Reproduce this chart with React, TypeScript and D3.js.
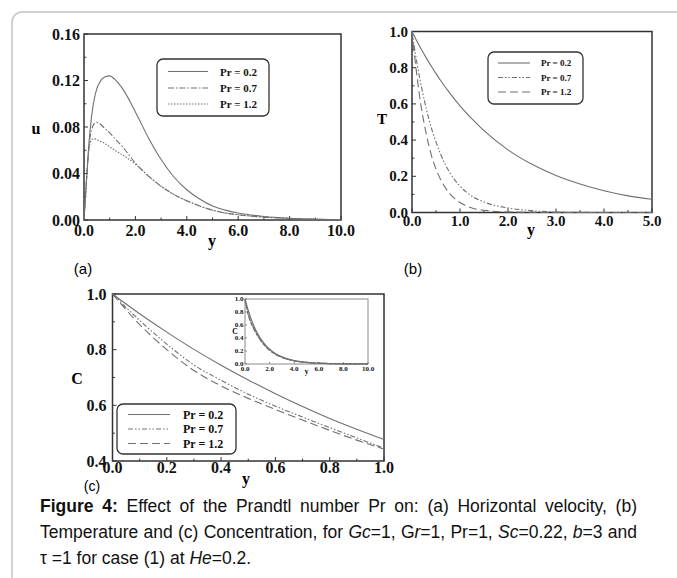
import React, { useLayoutEffect, useRef } from 'react'
import * as d3 from 'd3'

// ---------- data ----------
const velY = [0, 0.1, 0.2, 0.3, 0.4, 0.5, 0.6, 0.8, 1.0, 1.2, 1.5, 2.0, 2.5, 3.0, 3.5, 4.0, 4.5, 5.0, 5.5, 6.0, 7.0, 8.0, 9.0, 10.0]
const velPr02 = [0, 0.035, 0.068, 0.09, 0.104, 0.113, 0.118, 0.123, 0.124, 0.121, 0.113, 0.093, 0.071, 0.052, 0.037, 0.026, 0.018, 0.012, 0.0085, 0.006, 0.003, 0.0015, 0.0007, 0.0002]
const velPr07 = [0, 0.035, 0.065, 0.078, 0.083, 0.084, 0.083, 0.079, 0.075, 0.07, 0.063, 0.049, 0.038, 0.029, 0.022, 0.0165, 0.012, 0.0085, 0.006, 0.0045, 0.0025, 0.0013, 0.0006, 0.0002]
const velPr12 = [0, 0.035, 0.062, 0.069, 0.07, 0.069, 0.068, 0.066, 0.063, 0.06, 0.056, 0.048, 0.038, 0.029, 0.022, 0.0165, 0.012, 0.0085, 0.006, 0.0045, 0.0025, 0.0013, 0.0006, 0.0002]

const tempY = [0, 0.1, 0.2, 0.3, 0.4, 0.5, 0.6, 0.8, 1.0, 1.25, 1.5, 2.0, 2.5, 3.0, 3.5, 4.0, 4.5, 5.0]
const tempPr02 = [1, 0.948, 0.899, 0.853, 0.809, 0.767, 0.728, 0.655, 0.589, 0.517, 0.452, 0.346, 0.266, 0.204, 0.157, 0.12, 0.092, 0.073]
const tempPr07 = [1, 0.83, 0.69, 0.57, 0.47, 0.39, 0.32, 0.215, 0.145, 0.09, 0.058, 0.025, 0.01, 0.003, 0.001, 0, 0, 0]
const tempPr12 = [1, 0.76, 0.57, 0.43, 0.32, 0.24, 0.18, 0.1, 0.055, 0.025, 0.012, 0.003, 0.001, 0, 0, 0, 0, 0]

const concY = [0, 0.1, 0.2, 0.3, 0.4, 0.5, 0.6, 0.7, 0.8, 0.9, 1.0]
const concPr02 = [1, 0.929, 0.863, 0.801, 0.744, 0.691, 0.642, 0.596, 0.553, 0.514, 0.477]
const concPr07 = [1, 0.905, 0.82, 0.745, 0.69, 0.64, 0.597, 0.558, 0.52, 0.483, 0.446]
const concPr12 = [1, 0.89, 0.8, 0.725, 0.67, 0.625, 0.585, 0.547, 0.51, 0.475, 0.443]

const insetY = [0, 0.25, 0.5, 0.75, 1, 1.5, 2, 2.5, 3, 4, 5, 6, 7, 8, 9, 10]
const insetPr02 = [1, 0.83, 0.69, 0.574, 0.477, 0.33, 0.228, 0.157, 0.109, 0.052, 0.025, 0.012, 0.006, 0.003, 0.0013, 0.0006]
const insetPr07 = [1, 0.78, 0.64, 0.535, 0.446, 0.31, 0.215, 0.15, 0.104, 0.05, 0.024, 0.012, 0.006, 0.003, 0.0013, 0.0006]
const insetPr12 = [1, 0.76, 0.625, 0.525, 0.443, 0.305, 0.21, 0.147, 0.102, 0.049, 0.024, 0.012, 0.006, 0.003, 0.0013, 0.0006]

const legendLabels = ['Pr = 0.2', 'Pr = 0.7', 'Pr = 1.2']

// ticks
const aXMajor = [0, 2, 4, 6, 8, 10]
const aXMinor = [1, 3, 5, 7, 9]
const aYMajor = [0, 0.04, 0.08, 0.12, 0.16]
const aYMinor = [0.02, 0.06, 0.1, 0.14]
const bXMajor = [0, 1, 2, 3, 4, 5]
const bXMinor = [0.5, 1.5, 2.5, 3.5, 4.5]
const bYMajor = [0, 0.2, 0.4, 0.6, 0.8, 1.0]
const bYMinor = [0.1, 0.3, 0.5, 0.7, 0.9]
const cXMajor = [0, 0.2, 0.4, 0.6, 0.8, 1.0]
const cXMinor = [0.1, 0.3, 0.5, 0.7, 0.9]
const cYMajor = [0.4, 0.6, 0.8, 1.0]
const cYMinor = [0.5, 0.7, 0.9]
const inXMajor = [0, 2, 4, 6, 8, 10]
const inYMajor = [0, 0.2, 0.4, 0.6, 0.8, 1.0]

const SERIF = '"Liberation Serif", "DejaVu Serif", serif'
const SANS = '"Liberation Sans", Arial, sans-serif'
const CURVE = '#707070'
const AXIS = '#333'

type Scale = d3.ScaleLinear<number, number>

const Curve = ({ xs, ys, x, y, dash, width = 1.1 }: { xs: number[], ys: number[], x: Scale, y: Scale, dash?: string, width?: number }) => {
    const line = d3.line<number>()
        .x((_, i) => x(xs[i]))
        .y(d => y(d))
        .curve(d3.curveMonotoneX)
    return <path d={line(ys) || ''} fill="none" stroke={CURVE} strokeWidth={width} strokeDasharray={dash} />
}

interface AxesProps {
    x: Scale, y: Scale,
    xMajor: number[], xMinor: number[], yMajor: number[], yMinor: number[],
    xFmt: (v: number) => string, yFmt: (v: number) => string,
    fontSize: number, xLabelDy: number, yLabelDx: number,
    stroke?: string, strokeWidth?: number, tick?: number
}

const Axes = ({ x, y, xMajor, xMinor, yMajor, yMinor, xFmt, yFmt, fontSize, xLabelDy, yLabelDx, stroke = AXIS, strokeWidth = 1.5, tick = 4 }: AxesProps) => {
    const [x0, x1] = x.range()
    const [y0, y1] = y.range()
    return (
        <g>
            <rect x={x0} y={y1} width={x1 - x0} height={y0 - y1} fill="none" stroke={stroke} strokeWidth={strokeWidth} />
            {xMajor.concat(xMinor).map((v, i) => (
                <line key={'xt' + i} x1={x(v)} x2={x(v)} y1={y0} y2={y0 - (i < xMajor.length ? tick : tick * 0.6)} stroke={stroke} strokeWidth={1} />
            ))}
            {yMajor.concat(yMinor).map((v, i) => (
                <line key={'yt' + i} x1={x0} x2={x0 + (i < yMajor.length ? tick : tick * 0.6)} y1={y(v)} y2={y(v)} stroke={stroke} strokeWidth={1} />
            ))}
            <g fontFamily={SERIF} fontWeight="bold" fontSize={fontSize} fill="#111">
                {xMajor.map((v, i) => (
                    <text key={'xl' + i} x={x(v)} y={y0 + xLabelDy} textAnchor="middle">{xFmt(v)}</text>
                ))}
                {yMajor.map((v, i) => (
                    <text key={'yl' + i} x={x0 - yLabelDx} y={y(v)} textAnchor="end" dominantBaseline="central">{yFmt(v)}</text>
                ))}
            </g>
        </g>
    )
}

interface LegendProps {
    x: number, y: number, w: number, h: number,
    rows: number[], lineX: [number, number], textX: number,
    dashes: (string | undefined)[], fontSize: number
}

const Legend = ({ x, y, w, h, rows, lineX, textX, dashes, fontSize }: LegendProps) => (
    <g>
        <rect x={x} y={y} width={w} height={h} rx={6} fill="#fff" stroke={AXIS} strokeWidth={1.3} />
        {legendLabels.map((lab, i) => (
            <g key={lab}>
                <line x1={lineX[0]} x2={lineX[1]} y1={rows[i]} y2={rows[i]} stroke={CURVE} strokeWidth={1.1} strokeDasharray={dashes[i]} />
                <text x={textX} y={rows[i]} dominantBaseline="central" fontFamily={SERIF} fontWeight="bold" fontSize={fontSize} fill="#111">{lab}</text>
            </g>
        ))}
    </g>
)

// caption line stretched to a set width by adjusting the space between words
const JustifiedLine = ({ x, y, width, children }: { x: number, y: number, width: number, children: React.ReactNode }) => {
    const ref = useRef<SVGTextElement>(null)
    useLayoutEffect(() => {
        const el = ref.current
        if (!el) return
        el.style.wordSpacing = '0px'
        const natural = el.getComputedTextLength()
        const spaces = ((el.textContent || '').match(/ /g) || []).length
        if (spaces > 0) el.style.wordSpacing = `${(width - natural) / spaces}px`
    }, [width])
    return <text ref={ref} x={x} y={y} xmlSpace="preserve">{children}</text>
}

const f1 = (v: number) => v.toFixed(1)
const f2 = (v: number) => v.toFixed(2)

export default function App() {
    // (a) velocity
    const ax = d3.scaleLinear().domain([0, 10]).range([84, 341])
    const ay = d3.scaleLinear().domain([0, 0.16]).range([220, 34])
    // (b) temperature
    const bx = d3.scaleLinear().domain([0, 5]).range([412, 652])
    const by = d3.scaleLinear().domain([0, 1]).range([212.5, 31.5])
    // (c) concentration
    const cx = d3.scaleLinear().domain([0, 1]).range([112.5, 384])
    const cy = d3.scaleLinear().domain([0.4, 1]).range([461, 294])
    // inset
    const ix = d3.scaleLinear().domain([0, 10]).range([245, 368])
    const iy = d3.scaleLinear().domain([0, 1]).range([364, 299])

    const aDash = [undefined, '6,2,1.5,2', '1.5,1.5']
    const bDash = [undefined, '5,2,1.5,2,1.5,2', '8,4']

    return (
        <svg width={677} height={578} style={{ position: 'absolute', left: 0, top: 0, background: '#fff' }}>
            <rect x={12} y={12} width={720} height={620} rx={10} fill="#fff" stroke="#c4c4c4" strokeWidth={1.5} />

            {/* panel (a) */}
            <Axes x={ax} y={ay} xMajor={aXMajor} xMinor={aXMinor} yMajor={aYMajor} yMinor={aYMinor}
                xFmt={f1} yFmt={f2} fontSize={16} xLabelDy={16} yLabelDx={4} />
            <Curve xs={velY} ys={velPr02} x={ax} y={ay} />
            <Curve xs={velY} ys={velPr07} x={ax} y={ay} dash={aDash[1]} />
            <Curve xs={velY} ys={velPr12} x={ax} y={ay} dash={aDash[2]} />
            <Legend x={157} y={59} w={112} h={57} rows={[71.5, 88, 104]} lineX={[168, 208]} textX={220} dashes={aDash} fontSize={11} />
            <text x={36} y={128} textAnchor="middle" dominantBaseline="central" fontFamily={SERIF} fontWeight="bold" fontSize={16}>u</text>
            <text x={212} y={240} textAnchor="middle" dominantBaseline="central" fontFamily={SERIF} fontWeight="bold" fontSize={16}>y</text>
            <text x={83} y={268} textAnchor="middle" dominantBaseline="central" fontFamily={SANS} fontSize={15}>(a)</text>

            {/* panel (b) */}
            <Axes x={bx} y={by} xMajor={bXMajor} xMinor={bXMinor} yMajor={bYMajor} yMinor={bYMinor}
                xFmt={f1} yFmt={f1} fontSize={15} xLabelDy={13} yLabelDx={4} />
            <Curve xs={tempY} ys={tempPr02} x={bx} y={by} />
            <Curve xs={tempY} ys={tempPr07} x={bx} y={by} dash={bDash[1]} />
            <Curve xs={tempY} ys={tempPr12} x={bx} y={by} dash={bDash[2]} />
            <Legend x={488} y={52} w={95} h={52} rows={[63, 77.5, 92]} lineX={[498, 530]} textX={541} dashes={bDash} fontSize={9} />
            <text x={382} y={119} textAnchor="middle" dominantBaseline="central" fontFamily={SERIF} fontWeight="bold" fontSize={15}>T</text>
            <text x={531} y={229} textAnchor="middle" dominantBaseline="central" fontFamily={SERIF} fontWeight="bold" fontSize={16}>y</text>
            <text x={413} y={268} textAnchor="middle" dominantBaseline="central" fontFamily={SANS} fontSize={15}>(b)</text>

            {/* panel (c) */}
            <Axes x={cx} y={cy} xMajor={cXMajor} xMinor={cXMinor} yMajor={cYMajor} yMinor={cYMinor}
                xFmt={f1} yFmt={f1} fontSize={16} xLabelDy={12} yLabelDx={6} />
            <Curve xs={concY} ys={concPr02} x={cx} y={cy} />
            <Curve xs={concY} ys={concPr07} x={cx} y={cy} dash={bDash[1]} />
            <Curve xs={concY} ys={concPr12} x={cx} y={cy} dash={bDash[2]} />
            <Legend x={117} y={404} w={119} h={50} rows={[414.5, 429, 443.5]} lineX={[128, 170]} textX={183} dashes={bDash} fontSize={12} />
            <text x={77} y={378} textAnchor="middle" dominantBaseline="central" fontFamily={SERIF} fontWeight="bold" fontSize={16}>C</text>
            <text x={246} y={478} textAnchor="middle" dominantBaseline="central" fontFamily={SERIF} fontWeight="bold" fontSize={16}>y</text>
            <text x={92} y={486} textAnchor="middle" dominantBaseline="central" fontFamily={SANS} fontSize={14}>(c)</text>

            {/* inset */}
            <Axes x={ix} y={iy} xMajor={inXMajor} xMinor={[]} yMajor={inYMajor} yMinor={[]}
                xFmt={f1} yFmt={f1} fontSize={7} xLabelDy={7} yLabelDx={1.5} stroke="#8a8a8a" strokeWidth={1} tick={2} />
            <Curve xs={insetY} ys={insetPr02} x={ix} y={iy} width={1.2} />
            <Curve xs={insetY} ys={insetPr07} x={ix} y={iy} dash="3,1" width={1.2} />
            <Curve xs={insetY} ys={insetPr12} x={ix} y={iy} dash="4,2" width={1.2} />
            <text x={235} y={331} textAnchor="middle" dominantBaseline="central" fontFamily={SERIF} fontWeight="bold" fontSize={7.5}>C</text>
            <text x={306.5} y={371} textAnchor="middle" dominantBaseline="central" fontFamily={SERIF} fontWeight="bold" fontSize={7.5}>y</text>

            {/* caption */}
            <g fontFamily={SANS} fontSize={17.5} fill="#111">
                <JustifiedLine x={40} y={512} width={597}>
                    <tspan fontWeight="bold">Figure 4:</tspan>{' Effect of the Prandtl number Pr on: (a) Horizontal velocity, (b)'}
                </JustifiedLine>
                <JustifiedLine x={40} y={538} width={597}>
                    {'Temperature and (c) Concentration, for '}<tspan fontStyle="italic">Gc</tspan>{'=1, G'}<tspan fontStyle="italic">r</tspan>{'=1, Pr=1, '}<tspan fontStyle="italic">Sc</tspan>{'=0.22, '}<tspan fontStyle="italic">b</tspan>{'=3 and'}
                </JustifiedLine>
                <text x={40} y={564}>
                    {'τ =1 for case (1) at '}<tspan fontStyle="italic">He</tspan>{'=0.2.'}
                </text>
            </g>
        </svg>
    )
}
